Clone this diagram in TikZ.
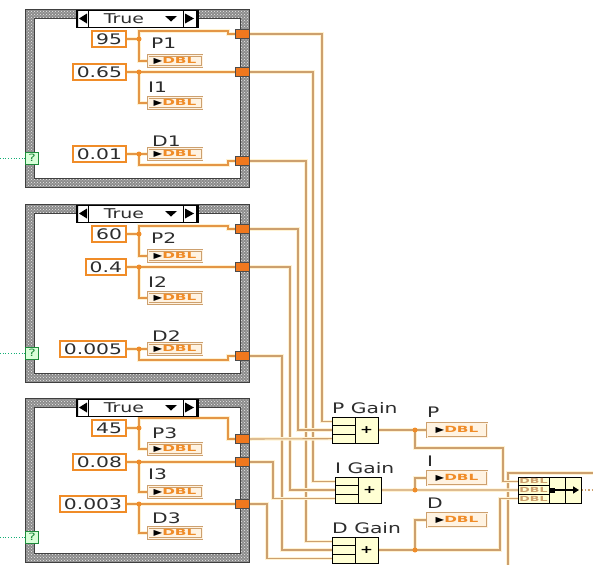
\documentclass[tikz,border=0pt]{standalone}
\usepackage{fontspec}
\setmainfont{DejaVu Sans}[FakeStretch=1.4]
\newfontfamily\dblfont{DejaVu Sans}[FakeStretch=1.8]
\usetikzlibrary{backgrounds,patterns,arrows.meta,positioning}

\definecolor{lvorange}{RGB}{240,140,40}
\definecolor{lvwire}{RGB}{228,150,70}
\definecolor{lvtan}{RGB}{205,160,110}
\definecolor{lvhalo}{RGB}{255,242,210}
\definecolor{lvpale}{RGB}{255,243,226}
\definecolor{lvtunnel}{RGB}{240,120,30}
\definecolor{lvyellow}{RGB}{255,255,212}
\definecolor{lvgreen}{RGB}{30,140,60}
\definecolor{lvtext}{RGB}{45,45,45}
\definecolor{lvframe}{RGB}{140,140,140}

\newcommand{\lvsize}{\fontsize{14.5}{16}\selectfont}
\newcommand{\dbltag}{{\fontsize{8}{8}\selectfont\textcolor{black}{▶}}\textcolor{lvorange}{\dblfont\bfseries\fontsize{8.5}{9}\selectfont DBL}}

\tikzset{
  lvconst/.style={draw=lvorange, line width=2pt, fill=white, text=lvtext,
    inner xsep=4pt, inner ysep=0pt, minimum height=16pt, anchor=east, font=\lvsize},
  lvind/.style={draw=lvtan, double=lvpale, double distance=1pt, line width=0.8pt,
    fill=lvpale, minimum width=54pt, minimum height=11pt, inner sep=0pt},
  lvbig/.style={lvind, minimum width=60pt, minimum height=14pt},
  lvlabel/.style={anchor=west, inner sep=0pt, text=lvtext, font=\lvsize},
  tunnel/.style={draw=black!70, fill=lvtunnel, line width=0.6pt,
    minimum width=14pt, minimum height=9pt, inner sep=0pt},
  jdot/.style={circle, fill=lvorange, inner sep=0pt, minimum size=5pt},
  wire/.style={draw=lvwire, line width=1.1pt, preaction={draw=lvhalo, line width=3.5pt}},
  longwire/.style={wire, draw=lvtan},
  gainrow/.style={draw=black, line width=1pt, fill=lvyellow, inner sep=0pt, outer sep=0pt,
    minimum width=23pt, minimum height=8.67pt},
  gainadd/.style={draw=black, line width=1pt, fill=lvyellow, inner sep=0pt, outer sep=0pt,
    minimum width=23pt, minimum height=26pt, font=\bfseries\fontsize{11}{11}\selectfont},
  bunrow/.style={draw=black, line width=1pt, fill=lvyellow, inner sep=0pt, outer sep=0pt,
    minimum width=31pt, minimum height=8.67pt,
    font=\dblfont\bfseries\fontsize{7}{7}\selectfont, text=lvtan},
  buncol/.style={draw=black, line width=1pt, fill=lvyellow, inner sep=0pt, outer sep=0pt,
    minimum width=16pt, minimum height=26pt},
  selq/.style={draw=lvgreen, fill=green!15, text=lvgreen, line width=0.8pt,
    minimum width=13pt, minimum height=12pt, inner sep=0pt,
    font=\fontsize{10}{10}\selectfont},
  qline/.style={draw=lvgreen!70!cyan, dotted, line width=0.7pt}
}

\begin{document}
\begin{tikzpicture}[x=1pt,y=-1pt]
\useasboundingbox (0,0) rectangle (593,565);

% the three case structures with their selectors
\foreach \t/\b/\q in {9/187/158,204/382/353,398/562/537}
{
  \fill[lvframe, even odd rule] (25,\t) rectangle (249,\b) (34,\t+9) rectangle (240,\b-9);
  \fill[pattern=crosshatch dots, pattern color=white!85!gray, even odd rule]
    (25,\t) rectangle (249,\b) (34,\t+9) rectangle (240,\b-9);
  \draw[black!75, line width=0.6pt] (25,\t) rectangle (249,\b) (34,\t+9) rectangle (240,\b-9);
  \draw[fill=white, line width=0.6pt] (76,\t+1) rectangle (198,\t+18);
  \draw[line width=0.6pt] (88,\t+1) -- (88,\t+18) (183,\t+1) -- (183,\t+18);
  \fill (76,\t+1) rectangle (78,\t+18) (196,\t+1) rectangle (198,\t+18);
  \fill (79,\t+9.5) -- (87,\t+4.5) -- (87,\t+14.5) -- cycle;
  \fill (185,\t+4.5) -- (185,\t+14.5) -- (194,\t+9.5) -- cycle;
  \fill (165,\t+7) -- (177,\t+7) -- (171,\t+12.5) -- cycle;
  \node[font=\fontsize{13.5}{14}\selectfont, text=lvtext] (sel\t) at (124,\t+9.5) {True};
  \node[selq] (q\t) at (32,\q) {?};
  \coordinate (qin\t) at (0,\q);
  \draw[qline] (qin\t) -- (q\t.west);
}

% structures 1 and 2 have the same layout
\foreach \k/\pv/\iv/\dv [evaluate=\k as \s using 195*(\k-1)] in {1/95/0.65/0.01,2/60/0.4/0.005}
{
  \begin{scope}[yshift=-\s pt]
  \node[lvconst] (cP\k) at (127,39) {\pv};
  \node[jdot] (jP\k) at (139,39) {};
  \node[lvlabel] (lP\k) at (151,43) {P\k};
  \node[lvind] (iP\k) at (175,61) {\dbltag};
  \node[tunnel] (tP\k) at (242,34) {};
  \node[lvconst] (cI\k) at (127,72) {\iv};
  \node[jdot] (jI\k) at (139,72) {};
  \node[lvlabel] (lI\k) at (148,87) {I\k};
  \node[lvind] (iI\k) at (175,103) {\dbltag};
  \node[tunnel] (tI\k) at (242,72) {};
  \node[lvlabel] (lD\k) at (152,141) {D\k};
  \node[lvconst] (cD\k) at (127,154) {\dv};
  \node[jdot] (jD\k) at (139,154) {};
  \node[lvind] (iD\k) at (175,154) {\dbltag};
  \node[tunnel] (tD\k) at (242,161) {};
  \begin{scope}[on background layer]
  \draw[wire] (cP\k.east) -- (jP\k.center) |- (228,31) |- (tP\k.west);
  \draw[wire] (jP\k.center) |- (iP\k.west);
  \draw[wire] (cI\k.east) -- (tI\k.west);
  \draw[wire] (jI\k.center) |- (iI\k.west);
  \draw[wire] (cD\k.east) -- (iD\k.west);
  \draw[wire] (jD\k.center) |- (228,165) |- (tD\k.west);
  \end{scope}
  \end{scope}
}

% structure 3
\node[lvconst] (cP3) at (127,428) {45};
\node[jdot] (jP3) at (139,428) {};
\node[lvlabel] (lP3) at (152,433) {P3};
\node[lvind] (iP3) at (175,449) {\dbltag};
\node[tunnel] (tP3) at (242,439) {};
\node[lvconst] (cI3) at (127,462) {0.08};
\node[jdot] (jI3) at (139,462) {};
\node[lvlabel] (lI3) at (148,474) {I3};
\node[lvind] (iI3) at (175,492) {\dbltag};
\node[tunnel] (tI3) at (242,462) {};
\node[lvconst] (cD3) at (127,504) {0.003};
\node[jdot] (jD3) at (139,504) {};
\node[lvlabel] (lD3) at (152,518) {D3};
\node[lvind] (iD3) at (175,533) {\dbltag};
\node[tunnel] (tD3) at (242,504) {};
\begin{scope}[on background layer]
\draw[wire] (cP3.east) -- (jP3.center) |- (228,418) |- (tP3.west);
\draw[wire] (jP3.center) |- (iP3.west);
\draw[wire] (cI3.east) -- (tI3.west);
\draw[wire] (jI3.center) |- (iI3.west);
\draw[wire] (cD3.east) -- (tD3.west);
\draw[wire] (jD3.center) |- (iD3.west);
\end{scope}

% the gain adders
\foreach \g/\x/\y/\lab in {P/332/417/P Gain,I/335/477/I Gain,D/332/537/D Gain}
{
  \node[gainrow, anchor=north west] (\g a) at (\x,\y) {};
  \node[gainrow, anchor=north] (\g b) at (\g a.south) {};
  \node[gainrow, anchor=north] (\g c) at (\g b.south) {};
  \node[gainadd, anchor=north west] (\g add) at (\g a.north east) {+};
  \node[lvlabel, anchor=south west, yshift=3pt] (\g lab) at (\g a.north west) {\lab};
}

% indicators and the bundle
\node[jdot] (jP) at (415,430) {};
\node[lvbig] (iP) at (457,430) {\dbltag};
\node[lvlabel] (lP) at (427,412) {P};
\node[jdot] (jI) at (415,490) {};
\node[lvbig] (iI) at (457,478) {\dbltag};
\node[lvlabel] (lI) at (427,461) {I};
\node[jdot] (jD) at (415,550) {};
\node[lvbig] (iD) at (457,520) {\dbltag};
\node[lvlabel] (lD) at (427,503) {D};

\node[bunrow, anchor=north west] (Ba) at (518,477) {DBL};
\node[bunrow, anchor=north] (Bb) at (Ba.south) {DBL};
\node[bunrow, anchor=north] (Bc) at (Bb.south) {DBL};
\node[buncol, anchor=north west] (Bm) at (Ba.north east) {};
\node[buncol, anchor=north west] (Be) at (Bm.north east) {};
\fill ([xshift=1pt]Bm.west) ++(0,-2.5) rectangle ++(5,5);
\draw[line width=2.2pt, -{Triangle[length=6pt,width=7pt]}] ([xshift=2pt]Bm.west) -- ([xshift=-2pt]Be.east);
\coordinate (outR) at (593,490);
\coordinate (xb) at (508,565);
\coordinate (xr) at (593,473);

% the long wires
\begin{scope}[on background layer]
\draw[longwire] (xb) |- (xr);
\foreach \g/\r/\k/\x in {P/a/1/322,I/a/1/313,D/a/1/306,P/b/2/298,I/b/2/290,D/b/2/282,I/c/3/273,D/c/3/267}
  \draw[longwire] (t\g\k.east) -| (\x,0|-\g\r.west) -- (\g\r.west);
\draw[longwire] (tP3.east) -- (Pc.west);
\draw[longwire] (Padd.east) -- (iP.west);
\draw[longwire] (jP.center) |- (503,448) |- (Ba.west);
\draw[longwire] (Iadd.east) -- (Bb.west);
\draw[longwire] (jI.center) |- (iI.west);
\draw[longwire] (Dadd.east) -- (jD.center) -| (500,0|-Bc.west) -- (Bc.west);
\draw[longwire] (jD.center) |- (iD.west);
\draw[lvtan, dotted, line width=1.5pt] (Be.east) -- (outR);
\end{scope}
\end{tikzpicture}
\end{document}
